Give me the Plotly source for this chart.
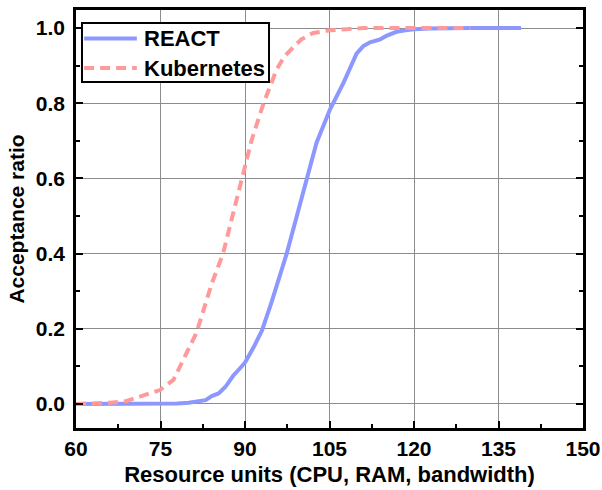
import plotly.graph_objects as go

# Acceptance ratio vs. offered resource units
react_x = [60, 65, 70, 75, 78, 80, 82, 83, 84.1, 85.3, 86.5, 87.9, 89, 90, 91.5, 93,
           94.7, 96, 97.4, 99.2, 100.9, 102.7, 105.1, 107.5, 109.8, 111, 112.2, 114,
           115.2, 116.9, 118.5, 120, 122.8, 126, 130, 135, 139]
react_y = [0, 0, 0, 0, 0.001, 0.003, 0.006, 0.01, 0.021, 0.028, 0.045, 0.075, 0.093,
           0.11, 0.15, 0.195, 0.27, 0.33, 0.40, 0.50, 0.597, 0.695, 0.784, 0.855, 0.932,
           0.952, 0.962, 0.97, 0.98, 0.99, 0.994, 0.997, 0.999, 1.0, 1.0, 1.0, 1.0]

k8s_x = [60, 63, 66, 69, 72, 74.9, 77.3, 78.5, 79.7, 81.4, 83.2, 84.1, 86.1, 87.9, 89.4,
         91.2, 93.3, 95.6, 97, 98.6, 100, 102.1, 105.1, 108, 111, 115, 120, 125, 130]
k8s_y = [0, 0.001, 0.003, 0.008, 0.022, 0.037, 0.064, 0.1, 0.135, 0.19, 0.277, 0.32, 0.40,
         0.508, 0.596, 0.703, 0.80, 0.889, 0.925, 0.951, 0.97, 0.987, 0.994, 0.997, 1.0,
         1.0, 1.0, 1.0, 1.0]

x_ticks = [60, 75, 90, 105, 120, 135, 150]
y_ticks = [0.0, 0.2, 0.4, 0.6, 0.8, 1.0]

series_names = ["REACT", "Kubernetes"]
series_colors = ["#8c98ff", "#ff9a9a"]
series_dash = ["solid", "10px,6px"]

FONT = "Liberation Sans"

fig = go.Figure()
for name, xs, ys, col, dash in zip(series_names, [react_x, k8s_x], [react_y, k8s_y],
                                   series_colors, series_dash):
    fig.add_trace(go.Scatter(
        x=xs, y=ys, mode="lines", name=name, showlegend=False,
        line=dict(color=col, width=4, dash=dash),
    ))

axis_common = dict(
    showline=True, linecolor="black", linewidth=2.5,
    showgrid=True, gridcolor="#8c8c8c", gridwidth=1,
    zeroline=False, automargin=False,
    ticks="inside", ticklen=7, tickwidth=1.5, tickcolor="black",
    tickfont=dict(family=FONT, size=21, color="black"),
)

fig.update_xaxes(
    **axis_common,
    range=[60, 150], tickvals=x_ticks, ticktext=[f"<b>{v}</b>" for v in x_ticks],
    mirror=True,
    minor=dict(ticks="inside", ticklen=4, tickcolor="black", dtick=7.5, tick0=60, showgrid=False),
    title=dict(text="<b>Resource units (CPU, RAM, bandwidth)</b>",
               font=dict(family=FONT, size=22, color="black"), standoff=8),
)
fig.update_yaxes(
    **axis_common,
    range=[-0.064, 1.048], tickvals=y_ticks, ticktext=[f"<b>{v:.1f}</b>" for v in y_ticks],
    mirror="ticks", ticklabelstandoff=4,
    minor=dict(ticks="inside", ticklen=4, tickcolor="black", dtick=0.1, tick0=0, showgrid=False),
    title=dict(text="<b>Acceptance ratio</b>",
               font=dict(family=FONT, size=21, color="black"), standoff=6),
)

# Boxed legend in the upper-left corner of the plotting area
shapes = [dict(type="rect", xref="paper", yref="paper", x0=0.0118, x1=0.3807, y0=0.828, y1=0.969,
               line=dict(color="black", width=2), fillcolor="white", layer="above")]
annotations = []
row_y = [0.932, 0.861]
for name, col, dash, yy in zip(series_names, series_colors, series_dash, row_y):
    shapes.append(dict(type="line", xref="paper", yref="paper", x0=0.016, x1=0.12, y0=yy, y1=yy,
                       line=dict(color=col, width=4, dash=dash), layer="above"))
    annotations.append(dict(xref="paper", yref="paper", x=0.13, y=yy, xanchor="left", yanchor="middle",
                            showarrow=False, text=f"<b>{name}</b>",
                            font=dict(family=FONT, size=22, color="black")))

fig.update_layout(
    width=602, height=490,
    margin=dict(l=76, r=19, t=10, b=62),
    paper_bgcolor="white", plot_bgcolor="white",
    shapes=shapes, annotations=annotations,
)

fig.write_html("out.html")
